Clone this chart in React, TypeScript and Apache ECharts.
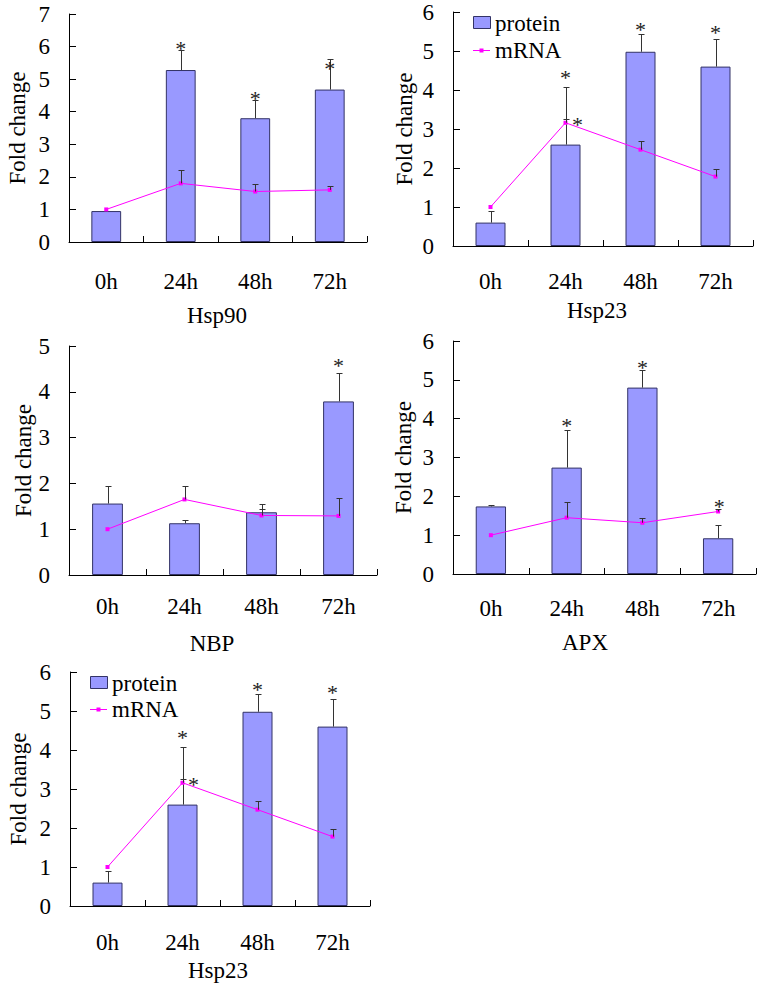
import React, { useEffect, useRef } from 'react';
import * as echarts from 'echarts';

const FONT = "'Liberation Serif', 'Times New Roman', Times, serif";
const FS = 23;

const categories = ['0h', '24h', '48h', '72h'];

// Hsp90
const hsp90Protein = [0.95, 5.28, 3.8, 4.68];
const hsp90ProteinErr = [0, 0.6, 0.57, 0.95];
const hsp90Mrna = [1.0, 1.8, 1.55, 1.6];
const hsp90MrnaErr = [0, 0.41, 0.23, 0.11];
const hsp90ProteinStars = [null, 6.05, 4.52, 5.44];
const hsp90MrnaStars = [null, null, null, null];

// Hsp23
const hsp23Protein = [0.6, 2.6, 4.98, 4.6];
const hsp23ProteinErr = [0.29, 1.47, 0.46, 0.7];
const hsp23Mrna = [1.0, 3.16, 2.47, 1.78];
const hsp23MrnaErr = [0, 0.1, 0.21, 0.2];
const hsp23ProteinStars = [null, 4.42, 5.66, 5.57];
const hsp23MrnaStars = [null, 3.22, null, null];

// NBP
const nbpProtein = [1.56, 1.13, 1.37, 3.79];
const nbpProteinErr = [0.39, 0.08, 0.17, 0.63];
const nbpMrna = [1.0, 1.65, 1.3, 1.29];
const nbpMrnaErr = [0, 0.3, 0.14, 0.39];
const nbpProteinStars = [null, null, null, 4.66];
const nbpMrnaStars = [null, null, null, null];

// APX
const apxProtein = [1.74, 2.74, 4.8, 0.92];
const apxProteinErr = [0.03, 0.96, 0.46, 0.34];
const apxMrna = [1.0, 1.45, 1.32, 1.61];
const apxMrnaErr = [0, 0.4, 0.12, 0.07];
const apxProteinStars = [null, 3.92, 5.42, null];
const apxMrnaStars = [null, null, null, 1.83];

const genes = ['Hsp90', 'Hsp23', 'NBP', 'APX', 'Hsp23'];
const yMaxes = [7, 6, 5, 6, 6];
const legendNames = ['protein', 'mRNA'];
const yAxisName = 'Fold change';

const panelData = [
  { protein: hsp90Protein, proteinErr: hsp90ProteinErr, mrna: hsp90Mrna, mrnaErr: hsp90MrnaErr, pStars: hsp90ProteinStars, mStars: hsp90MrnaStars },
  { protein: hsp23Protein, proteinErr: hsp23ProteinErr, mrna: hsp23Mrna, mrnaErr: hsp23MrnaErr, pStars: hsp23ProteinStars, mStars: hsp23MrnaStars },
  { protein: nbpProtein, proteinErr: nbpProteinErr, mrna: nbpMrna, mrnaErr: nbpMrnaErr, pStars: nbpProteinStars, mStars: nbpMrnaStars },
  { protein: apxProtein, proteinErr: apxProteinErr, mrna: apxMrna, mrnaErr: apxMrnaErr, pStars: apxProteinStars, mStars: apxMrnaStars },
  { protein: hsp23Protein, proteinErr: hsp23ProteinErr, mrna: hsp23Mrna, mrnaErr: hsp23MrnaErr, pStars: hsp23ProteinStars, mStars: hsp23MrnaStars },
];

const layouts = [
  { left: 69, top: 14, width: 298, height: 228, labelMargin: 28, nameGap: 40, titleX: 217, titleY: 315, mStarDx: 0, legend: null },
  { left: 453, top: 12, width: 300, height: 234, labelMargin: 24, nameGap: 37, titleX: 597, titleY: 310, mStarDx: 12, legend: { x: 473, y1: 23, y2: 50 } },
  { left: 69, top: 346, width: 308, height: 229, labelMargin: 20, nameGap: 34, titleX: 212, titleY: 643, mStarDx: 0, legend: null },
  { left: 453, top: 341, width: 303, height: 233, labelMargin: 23, nameGap: 38, titleX: 585, titleY: 642, mStarDx: 1, legend: null },
  { left: 70, top: 672, width: 300, height: 234, labelMargin: 25, nameGap: 40, titleX: 218, titleY: 970, mStarDx: 11, legend: { x: 90, y1: 683, y2: 709 } },
];

const BAR_COLOR = '#9999ff';
const BAR_BORDER = '#333366';
const LINE_COLOR = '#ff00ff';
const ERR_COLOR = '#333333';
const STAR_DY = 4;

function errRenderer() {
  return (params: any, api: any) => {
    const x = api.value(0);
    const v = api.value(1);
    const e = api.value(2);
    if (!e) return null;
    const base = api.coord([x, v]);
    const top = api.coord([x, v + e]);
    const cx = Math.round(base[0]) + 0.5;
    const ty = Math.round(top[1]) + 0.5;
    return {
      type: 'group',
      children: [
        { type: 'line', shape: { x1: cx, y1: base[1], x2: cx, y2: ty }, style: { stroke: ERR_COLOR, lineWidth: 1 } },
        { type: 'line', shape: { x1: cx - 3, y1: ty, x2: cx + 3, y2: ty }, style: { stroke: ERR_COLOR, lineWidth: 1 } },
      ],
    };
  };
}

function starRenderer() {
  return (params: any, api: any) => {
    const p = api.coord([api.value(0), api.value(1)]);
    const dx = api.value(2);
    return {
      type: 'text',
      x: p[0] + dx,
      y: p[1] + STAR_DY,
      style: {
        text: '*',
        fontSize: 22,
        fontFamily: FONT,
        fill: '#222222',
        align: 'center',
        verticalAlign: 'middle',
      },
    };
  };
}

function textStyle(text: string, align: string) {
  return {
    text,
    fontSize: FS,
    fontFamily: FONT,
    fill: '#000',
    align,
    verticalAlign: 'middle',
  };
}

function buildOption() {
  const grid: any[] = [];
  const xAxis: any[] = [];
  const yAxis: any[] = [];
  const series: any[] = [];
  const graphic: any[] = [];

  layouts.forEach((L, i) => {
    const D = panelData[i];
    grid.push({ left: L.left, top: L.top, width: L.width, height: L.height, containLabel: false, outerBoundsMode: 'none' });
    xAxis.push({
      type: 'category',
      gridIndex: i,
      data: categories,
      boundaryGap: true,
      axisLine: { show: true, lineStyle: { color: '#000', width: 1 } },
      axisTick: { show: true, inside: true, length: 6, alignWithLabel: false, lineStyle: { color: '#000' } },
      axisLabel: { margin: L.labelMargin, fontSize: FS, fontFamily: FONT, color: '#000', interval: 0 },
      splitLine: { show: false },
    });
    yAxis.push({
      type: 'value',
      gridIndex: i,
      min: 0,
      max: yMaxes[i],
      interval: 1,
      name: yAxisName,
      nameLocation: 'middle',
      nameRotate: 90,
      nameGap: L.nameGap,
      nameTextStyle: { fontSize: FS, fontFamily: FONT, color: '#000' },
      axisLine: { show: true, lineStyle: { color: '#000', width: 1 } },
      axisTick: { show: true, inside: true, length: 7, lineStyle: { color: '#000' } },
      axisLabel: { margin: 19, fontSize: FS, fontFamily: FONT, color: '#000' },
      splitLine: { show: false },
    });

    series.push({
      type: 'bar',
      name: legendNames[0],
      xAxisIndex: i,
      yAxisIndex: i,
      data: D.protein,
      barWidth: '40%',
      itemStyle: { color: BAR_COLOR, borderColor: BAR_BORDER, borderWidth: 1 },
      silent: true,
    });
    series.push({
      type: 'line',
      name: legendNames[1],
      xAxisIndex: i,
      yAxisIndex: i,
      data: D.mrna,
      symbol: 'rect',
      symbolSize: 4,
      lineStyle: { color: LINE_COLOR, width: 1 },
      itemStyle: { color: LINE_COLOR },
      silent: true,
      z: 3,
    });
    series.push({
      type: 'custom',
      xAxisIndex: i,
      yAxisIndex: i,
      data: categories.map((_, j) => [j, D.protein[j], D.proteinErr[j]]),
      renderItem: errRenderer(),
      silent: true,
      clip: false,
      z: 3,
    });
    series.push({
      type: 'custom',
      xAxisIndex: i,
      yAxisIndex: i,
      data: categories.map((_, j) => [j, D.mrna[j], D.mrnaErr[j]]),
      renderItem: errRenderer(),
      silent: true,
      clip: false,
      z: 4,
    });
    const starData: any[] = [];
    D.pStars.forEach((s, j) => { if (s != null) starData.push([j, s, 0]); });
    D.mStars.forEach((s, j) => { if (s != null) starData.push([j, s, L.mStarDx]); });
    series.push({
      type: 'custom',
      xAxisIndex: i,
      yAxisIndex: i,
      data: starData,
      renderItem: starRenderer(),
      silent: true,
      clip: false,
      z: 5,
    });

    graphic.push({
      type: 'text',
      x: L.titleX,
      y: L.titleY,
      style: textStyle(genes[i], 'center'),
    });

    if (L.legend) {
      const g = L.legend;
      graphic.push({
        type: 'rect',
        shape: { x: g.x + 0.5, y: g.y1 - 6.5, width: 17, height: 12 },
        style: { fill: BAR_COLOR, stroke: BAR_BORDER, lineWidth: 1 },
      });
      graphic.push({ type: 'text', x: g.x + 22, y: g.y1, style: textStyle(legendNames[0], 'left') });
      graphic.push({
        type: 'line',
        shape: { x1: g.x, y1: g.y2 + 0.5, x2: g.x + 17, y2: g.y2 + 0.5 },
        style: { stroke: LINE_COLOR, lineWidth: 1 },
      });
      graphic.push({
        type: 'rect',
        shape: { x: g.x + 6.5, y: g.y2 - 1.5, width: 4, height: 4 },
        style: { fill: LINE_COLOR },
      });
      graphic.push({ type: 'text', x: g.x + 22, y: g.y2, style: textStyle(legendNames[1], 'left') });
    }
  });

  return {
    animation: false,
    backgroundColor: '#ffffff',
    textStyle: { fontFamily: FONT },
    grid,
    xAxis,
    yAxis,
    series,
    graphic,
  };
}

export default function App() {
  const ref = useRef<HTMLDivElement>(null);
  useEffect(() => {
    if (!ref.current) return;
    const chart = echarts.init(ref.current, undefined, { renderer: 'svg' });
    chart.setOption(buildOption() as any);
    return () => chart.dispose();
  }, []);
  return (
    <div
      ref={ref}
      style={{ position: 'absolute', left: 0, top: 0, width: 762, height: 986, background: '#fff' }}
    />
  );
}
